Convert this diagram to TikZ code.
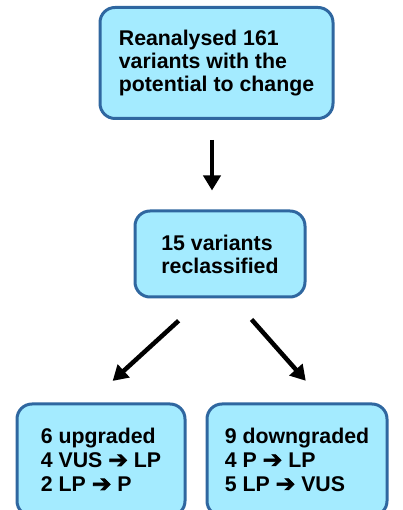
\documentclass[tikz,border=0pt]{standalone}
\usepackage{fontspec}
\setmainfont{Liberation Sans}
\newfontfamily\arrowfont[FakeBold=3,Scale=1.1]{DejaVu Sans}
\usepackage{tikz}
\usetikzlibrary{positioning,arrows.meta}

\definecolor{boxfill}{HTML}{A4EBFF}
\definecolor{boxline}{HTML}{2F67A0}
\newcommand{\goesto}{{\arrowfont ➔}}

\begin{document}
\begin{tikzpicture}[x=1pt,y=1pt,
  box/.style={rectangle,draw=boxline,fill=boxfill,line width=3pt,rounded corners=15pt,
    align=left,font=\fontsize{21.3}{23}\selectfont\bfseries},
  flow/.style={line width=4.5pt,-{Triangle[length=15pt,width=17pt]}}]
  \clip (0,0) rectangle (403,510);
  \node[box,minimum width=233pt,minimum height=111pt] (reanal) at (216.5,447)
    {Reanalysed 161\\variants with the\\potential to change};
  \node[box,minimum width=170pt,minimum height=86pt] (reclass) at (220,256)
    {15 variants\\reclassified};
  \node[box,minimum width=168pt,minimum height=112pt,
    font=\fontsize{21.3}{24}\selectfont\bfseries] (upgr) at (101,50)
    {6 upgraded\\4 VUS \goesto{} LP\\2 LP \goesto{} P};
  \node[box,minimum width=180pt,minimum height=112pt,
    font=\fontsize{21.3}{24}\selectfont\bfseries] (downgr) at (297,50)
    {9 downgraded\\4 P \goesto{} LP\\5 LP \goesto{} VUS};
  % arrows between levels
  \draw[flow,shorten <=20pt,shorten >=19pt] ([xshift=-4.5pt]reanal.south) -- ([xshift=-8pt]reclass.north);
  \draw[flow,shorten <=33pt,shorten >=32pt] ([xshift=-17pt]reclass.south) -- ([xshift=-12pt]upgr.north);
  \draw[flow,shorten <=28pt,shorten >=29pt] ([xshift=13pt]reclass.south) -- ([xshift=28pt]downgr.north);
\end{tikzpicture}
\end{document}
